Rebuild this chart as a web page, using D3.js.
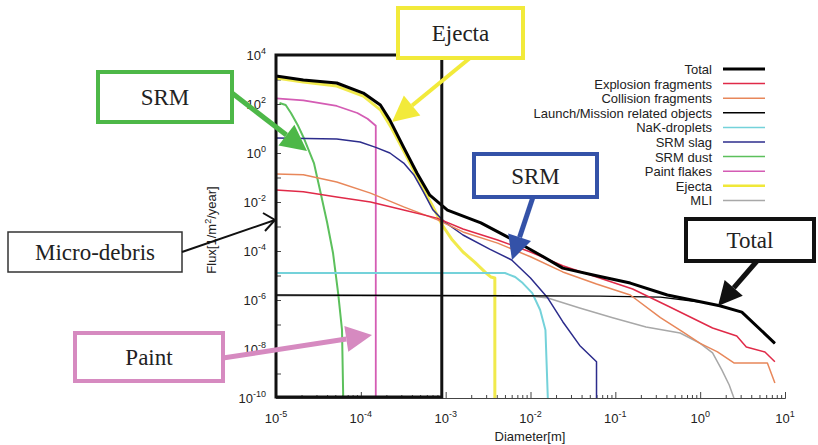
<!DOCTYPE html>
<html>
<head>
<meta charset="utf-8">
<script src="https://cdn.jsdelivr.net/npm/d3@7"></script>
<style>
  body { margin: 0; background: #fff; }
  svg { display: block; }
  .axis path, .axis line { stroke: #444; }
  .tl { font-family: "Liberation Sans", Arial, sans-serif; font-size: 13px; fill: #222; }
  .ann { font-family: "Liberation Serif", "Times New Roman", serif; font-size: 23px; fill: #222; }
</style>
</head>
<body>
<div id="graphicContainer"></div>
<script>
// flux [1/m^2/year] against diameter [m]
var total = [[1e-5, 1.4e3], [2.1e-5, 9.5e2], [5.2e-5, 7.2e2], [1.07e-4, 2.8e2], [1.7e-4, 91], [2.2e-4, 22],
  [3.2e-4, 1.7], [4.6e-4, 0.15], [6.5e-4, 1.9e-2], [1.05e-3, 4.7e-3], [2.6e-3, 1.4e-3], [6.3e-3, 2.8e-4],
  [1.3e-2, 6.9e-5], [2.4e-2, 2.0e-5], [6.2e-2, 9.5e-6], [0.15, 4.9e-6], [0.41, 1.6e-6], [1.7, 5.8e-7],
  [3.1, 3.2e-7], [7.6, 1.7e-8]];
var explosion = [[1e-5, 3.1e-2], [2.1e-5, 2.6e-2], [5.2e-5, 1.6e-2], [1.3e-4, 1.0e-2], [3.2e-4, 4.7e-3],
  [7.9e-4, 2.2e-3], [1.6e-3, 7.9e-4], [4.1e-3, 2.8e-4], [1.0e-2, 9.1e-5], [2.4e-2, 2.5e-5], [6.0e-2, 8.7e-6],
  [0.16, 2.8e-6], [0.41, 5.8e-7], [1.4, 7.2e-8], [2.7, 3.4e-8], [3.5, 1.2e-8], [5.8, 7.6e-9], [7.6, 3.0e-9]];
var collision = [[1e-5, 0.14], [2.1e-5, 0.13], [5.2e-5, 6.6e-2], [1.3e-4, 2.3e-2], [3.2e-4, 6.3e-3],
  [7.9e-4, 1.9e-3], [1.6e-3, 6.0e-4], [4.1e-3, 2.1e-4], [1.0e-2, 5.8e-5], [2.4e-2, 1.4e-5], [6.0e-2, 4.5e-6],
  [0.15, 1.6e-6], [0.34, 1.9e-7], [0.63, 4.9e-8], [1.0, 1.7e-8], [1.6, 7.6e-9], [2.5, 2.7e-9], [6.2, 2.7e-9],
  [7.6, 4.1e-10]];
var launch = [[1e-5, 1.6e-6], [6.6e-2, 1.45e-6], [0.34, 1.3e-6], [1.0, 8.3e-7], [1.7, 5.8e-7], [3.1, 3.2e-7], [7.6, 1.7e-8]];
var nak = [[1e-5, 1.26e-5], [5.0e-3, 1.26e-5], [6.6e-3, 8.7e-6], [8.1e-3, 4.9e-6], [1.05e-2, 1.9e-6],
  [1.3e-2, 3.9e-7], [1.5e-2, 6.0e-8], [1.6e-2, 1e-10]];
var srmSlag = [[1e-5, 4.1], [5.2e-5, 3.7], [9.8e-5, 2.8], [1.5e-4, 1.7], [2.2e-4, 1.0], [3.2e-4, 0.39],
  [4.2e-4, 0.13], [5.4e-4, 2.8e-2], [7.1e-4, 4.7e-3], [9.8e-4, 1.5e-3], [1.6e-3, 4.5e-4], [3.3e-3, 1.2e-4],
  [6.0e-3, 4.3e-5], [1.0e-2, 7.9e-6], [1.6e-2, 1.2e-6], [2.4e-2, 1.3e-7], [3.8e-2, 1.4e-8], [6.0e-2, 3.0e-9],
  [6.0e-2, 1e-10]];
var srmDust = [[1.1e-5, 1.1e2], [1.3e-5, 91], [1.5e-5, 43], [1.8e-5, 14], [2.1e-5, 4.5], [2.8e-5, 0.39],
  [3.3e-5, 3.1e-2], [4.0e-5, 1.5e-3], [4.7e-5, 8.3e-5], [5.4e-5, 1.9e-6], [6.0e-5, 6.0e-8], [6.2e-5, 1e-10]];
var paint = [[1e-5, 1.7e2], [2.1e-5, 1.4e2], [5.2e-5, 83], [9.1e-5, 43], [1.2e-4, 25], [1.5e-4, 13], [1.5e-4, 1e-10]];
var ejecta = [[1e-5, 1.15e3], [2.1e-5, 7.9e2], [5.2e-5, 5.4e2], [1.07e-4, 2.1e2], [1.7e-4, 58], [2.3e-4, 10.5],
  [3.3e-4, 1.0], [5.0e-4, 6.0e-2], [6.9e-4, 7.6e-3], [9.1e-4, 1.15e-3], [1.2e-3, 2.8e-4], [1.6e-3, 9.1e-5],
  [2.2e-3, 3.5e-5], [3.0e-3, 1.26e-5], [3.4e-3, 8.7e-6], [3.8e-3, 7.9e-6], [3.8e-3, 1e-10]];
var mli = [[1e-5, 1.5e-6], [1e-2, 1.45e-6], [1.6e-2, 1.2e-6], [3.8e-2, 4.7e-7], [9.3e-2, 1.9e-7], [0.23, 7.9e-8],
  [0.58, 4.5e-8], [1.0, 1.7e-8], [1.4, 6.9e-9], [1.8, 1.4e-9], [2.2, 3.4e-10], [2.5, 1e-10]];

var seriesNames = ["Total", "Explosion fragments", "Collision fragments", "Launch/Mission related objects",
  "NaK-droplets", "SRM slag", "SRM dust", "Paint flakes", "Ejecta", "MLI"];
var seriesData = [total, explosion, collision, launch, nak, srmSlag, srmDust, paint, ejecta, mli];
var seriesColors = ["#000000", "#e02a48", "#e8875a", "#000000", "#74d2da", "#2c2c8c", "#5cc05c", "#d45cb4", "#f0e838", "#a8a8a8"];
var seriesWidths = [3, 1.5, 1.5, 1.3, 2, 1.5, 2, 1.8, 3, 1.5];

var xExps = [-5, -4, -3, -2, -1, 0, 1];
var yExps = [4, 2, 0, -2, -4, -6, -8, -10];

var svg = d3.select("#graphicContainer").append("svg").attr("width", 818).attr("height", 445);
svg.append("rect").attr("width", 818).attr("height", 445).attr("fill", "#fff");

var x = d3.scaleLog().domain([1e-5, 10]).range([276, 785]);
var y = d3.scaleLog().domain([1e-10, 1e4]).range([398, 55]).clamp(true);

// axes, ticks pointing inward
var decX = d3.range(-5, 2).map(function (e) { return Math.pow(10, e); });
var minorX = [];
decX.slice(0, -1).forEach(function (d) { for (var k = 2; k < 10; k++) minorX.push(d * k); });
svg.append("g").attr("class", "axis").attr("transform", "translate(0,398)")
  .call(d3.axisBottom(x).tickValues(minorX).tickSizeInner(-3).tickSizeOuter(0).tickFormat(""));
svg.append("g").attr("class", "axis").attr("transform", "translate(0,398)")
  .call(d3.axisBottom(x).tickValues(decX).tickSizeInner(-6).tickSizeOuter(0).tickFormat(""));
var decY = d3.range(-10, 5).map(function (e) { return Math.pow(10, e); });
svg.append("g").attr("class", "axis").attr("transform", "translate(276,0)")
  .call(d3.axisLeft(y).tickValues(decY).tickSizeInner(-5).tickSizeOuter(0).tickFormat(""));

function powLabel(sel, exp) {
  sel.append("tspan").text("10");
  sel.append("tspan").attr("dy", -6).attr("font-size", 9).text(exp);
}
xExps.forEach(function (e) {
  svg.append("text").attr("class", "tl").attr("x", x(Math.pow(10, e))).attr("y", 423)
    .attr("text-anchor", "middle").call(powLabel, e);
});
yExps.forEach(function (e) {
  svg.append("text").attr("class", "tl").attr("x", 266).attr("y", y(Math.pow(10, e)) + 5)
    .attr("text-anchor", "end").call(powLabel, e);
});

svg.append("text").attr("class", "tl").attr("x", 530).attr("y", 441).attr("text-anchor", "middle").text("Diameter[m]");
var yt = svg.append("text").attr("class", "tl").attr("transform", "translate(216,230) rotate(-90)").attr("text-anchor", "middle");
yt.append("tspan").text("Flux[1/m");
yt.append("tspan").attr("dy", -5).attr("font-size", 9).text("2");
yt.append("tspan").attr("dy", 5).text("/year]");

// curves, drawn back to front
var line = d3.line().x(function (d) { return x(d[0]); }).y(function (d) { return y(d[1]); });
var order = [9, 8, 7, 6, 5, 4, 3, 2, 1, 0];
order.forEach(function (i) {
  svg.append("path").attr("d", line(seriesData[i])).attr("fill", "none")
    .attr("stroke", seriesColors[i]).attr("stroke-width", seriesWidths[i])
    .attr("stroke-linejoin", "round").attr("opacity", i == 8 ? 0.9 : 1);
});

// legend
var legend = svg.append("g");
seriesNames.forEach(function (name, i) {
  var ly = 69 + i * 14.6;
  legend.append("text").attr("class", "tl").attr("x", 712).attr("y", ly + 5).attr("text-anchor", "end").text(name);
  legend.append("line").attr("x1", 723).attr("x2", 765).attr("y1", ly).attr("y2", ly)
    .attr("stroke", seriesColors[i]).attr("stroke-width", i == 0 ? 3 : (i == 8 ? 2.5 : 1.5));
});

// annotations
function arrow(x1, y1, x2, y2, color, w, hl, hw) {
  var a = Math.atan2(y2 - y1, x2 - x1);
  var bx = x2 - hl * Math.cos(a), by = y2 - hl * Math.sin(a);
  svg.append("line").attr("x1", x1).attr("y1", y1).attr("x2", bx).attr("y2", by)
    .attr("stroke", color).attr("stroke-width", w);
  var px = -Math.sin(a) * hw, py = Math.cos(a) * hw;
  svg.append("path").attr("d", "M" + x2 + "," + y2 + "L" + (bx + px) + "," + (by + py) + "L" + (bx - px) + "," + (by - py) + "Z")
    .attr("fill", color);
}
function box(x0, y0, w, h, color, sw, label) {
  svg.append("rect").attr("x", x0).attr("y", y0).attr("width", w).attr("height", h)
    .attr("fill", "#fff").attr("stroke", color).attr("stroke-width", sw);
  svg.append("text").attr("class", "ann").attr("x", x0 + w / 2).attr("y", y0 + h / 2 + 8)
    .attr("text-anchor", "middle").text(label);
}

svg.append("rect").attr("x", x(1e-5)).attr("y", y(1e4)).attr("width", x(9e-4) - x(1e-5))
  .attr("height", y(1e-10) - y(1e4) - 1).attr("fill", "none").attr("stroke", "#111").attr("stroke-width", 3);

box(98, 72, 134, 50, "#4db848", 4, "SRM");
arrow(232, 93, 307, 151, "#4db848", 5, 26, 13);

box(398, 8, 125, 50, "#f2ea3a", 4, "Ejecta");
arrow(470, 58, 392, 122, "#f2ea3a", 4, 26, 13);

box(474, 154, 123, 43, "#3452a8", 4, "SRM");
arrow(533, 197, 512, 260, "#3452a8", 5, 24, 12);

box(686, 219, 128, 42, "#111", 4, "Total");
arrow(757, 261, 718, 306, "#111", 5, 24, 12);

box(75, 333, 148, 48, "#d68ac0", 4, "Paint");
arrow(223, 358, 372, 335, "#d68ac0", 5, 26, 13);

box(8, 232, 174, 40, "#333", 1.5, "Micro-debris");
svg.append("line").attr("x1", 182).attr("y1", 252).attr("x2", 275).attr("y2", 220).attr("stroke", "#111").attr("stroke-width", 2);
svg.append("path").attr("d", "M263,213L275,220L265,231").attr("fill", "none").attr("stroke", "#111").attr("stroke-width", 2);
</script>
</body>
</html>
